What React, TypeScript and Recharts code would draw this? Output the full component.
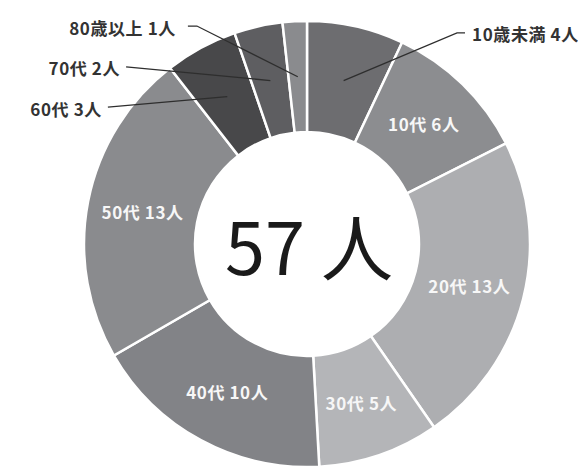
import React from "react";
import { PieChart, Pie, Cell } from "recharts";

const categories = ["10歳未満", "10代", "20代", "30代", "40代", "50代", "60代", "70代", "80歳以上"];
const counts = [4, 6, 13, 5, 10, 13, 3, 2, 1];
const unit = "人";

const colors = ["#6d6d70", "#8c8d90", "#adaeb1", "#b4b5b8", "#828387", "#8a8b8e", "#48484a", "#5e5e61", "#8a8b8e"];

// label layout for slices drawn with leader lines (polar elbow, tail, text gap)
const outsideLayout: Record<string, { angle: number; radius: number; tail: number; gap: number }> = {
  "10歳未満": { angle: 54.6, radius: 259, tail: 8, gap: 7 },
  "60代": { angle: 145.5, radius: 241.6, tail: 0, gap: 6 },
  "70代": { angle: 135.6, radius: 253.2, tail: 0, gap: 6 },
  "80歳以上": { angle: 116.8, radius: 244.2, tail: -9, gap: 12 },
};

const data = categories.map((name, i) => ({ name, value: counts[i] }));
const total = counts.reduce((a, b) => a + b, 0);

const RAD = Math.PI / 180;
const FONT = "'Noto Sans CJK JP', 'Noto Sans', sans-serif";

const renderLabel = (props: any) => {
  const { cx, cy, midAngle, innerRadius, outerRadius, name, value, index } = props;
  const mr = (innerRadius + outerRadius) / 2;
  const sx = cx + mr * Math.cos(-midAngle * RAD);
  const sy = cy + mr * Math.sin(-midAngle * RAD);
  const text = `${name} ${value}${unit}`;
  const lay = outsideLayout[name];
  const center =
    index === 0 ? (
      <text
        x={cx + 2}
        y={cy - 1}
        fill="#1a1a1a"
        fontSize={72}
        fontWeight={400}
        fontFamily={FONT}
        textAnchor="middle"
        dominantBaseline="central"
      >
        {`${total} ${unit}`}
      </text>
    ) : null;
  if (!lay) {
    return (
      <g>
        {center}
        <text
          x={sx}
          y={sy}
          fill="#f7f7f7"
          fontSize={17}
          fontWeight={700}
          fontFamily={FONT}
          textAnchor="middle"
          dominantBaseline="central"
          letterSpacing={0.6}
        >
          {text}
        </text>
      </g>
    );
  }
  const ex = cx + lay.radius * Math.cos(-lay.angle * RAD);
  const ey = cy + lay.radius * Math.sin(-lay.angle * RAD);
  const isRight = ex > cx;
  const tx = ex + lay.tail;
  const textX = isRight ? tx + lay.gap : tx - lay.gap;
  return (
    <g>
      {center}
      <polyline
        points={`${sx},${sy} ${ex},${ey} ${tx},${ey}`}
        fill="none"
        stroke="#2e2e2e"
        strokeWidth={1.3}
      />
      <text
        x={textX}
        y={ey + 1}
        fill="#333333"
        fontSize={17}
        fontWeight={700}
        fontFamily={FONT}
        textAnchor={isRight ? "start" : "end"}
        dominantBaseline="central"
        letterSpacing={0.6}
      >
        {text}
      </text>
    </g>
  );
};

export default function App() {
  return (
    <div style={{ position: "absolute", left: 0, top: 0, width: 578, height: 472, background: "#fff" }}>
      <PieChart width={578} height={472} margin={{ top: 0, right: 0, bottom: 0, left: 0 }}>
        <Pie
          data={data}
          dataKey="value"
          nameKey="name"
          cx={307}
          cy={244}
          innerRadius={112}
          outerRadius={223}
          startAngle={90}
          endAngle={-270}
          stroke="#ffffff"
          strokeWidth={2.5}
          label={renderLabel}
          labelLine={false}
          isAnimationActive={false}
        >
          {data.map((d, i) => (
            <Cell key={d.name} fill={colors[i]} />
          ))}
        </Pie>
      </PieChart>
    </div>
  );
}
